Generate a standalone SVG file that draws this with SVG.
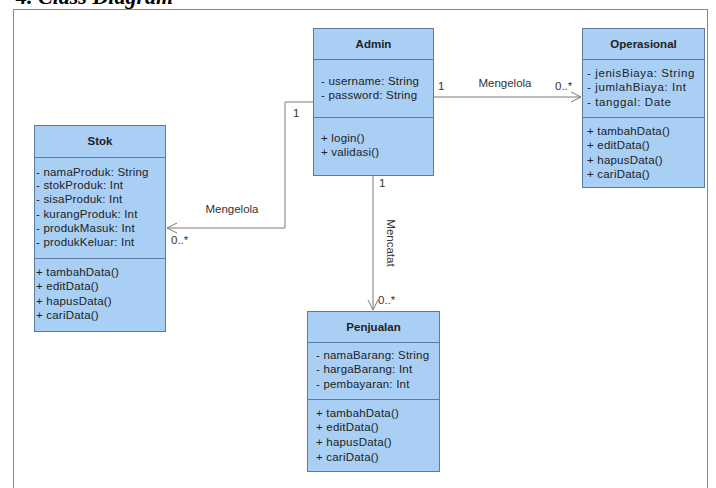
<svg xmlns="http://www.w3.org/2000/svg" width="716" height="488" viewBox="0 0 716 488">
<style>
.box{fill:#A9CFF5;stroke:#5B7BA3;stroke-width:1}
.div{stroke:#5B7BA3;stroke-width:1}
.t{font-family:"Liberation Sans",Arial,sans-serif;font-size:11.5px;letter-spacing:0.2px;fill:#222}
.h{font-family:"Liberation Sans",Arial,sans-serif;font-size:11.5px;font-weight:bold;fill:#222;text-anchor:middle}
.c{fill:none;stroke:#7a7a7a;stroke-width:1}
.l{font-family:"Liberation Sans",Arial,sans-serif;font-size:11.5px;fill:#333}
</style>
<defs>
<marker id="open" viewBox="0 0 12 12" refX="11" refY="6" markerWidth="12" markerHeight="12" markerUnits="userSpaceOnUse" orient="auto">
<path d="M1,1 L11,6 L1,11" fill="none" stroke="#7a7a7a" stroke-width="1"/>
</marker>
</defs>
<rect x="0" y="0" width="716" height="488" fill="#fff"/>
<text x="16" y="4" font-family="'Liberation Serif',serif" font-size="22" font-weight="bold" font-style="italic" fill="#000">4. Class Diagram</text>
<rect x="13.5" y="9.5" width="694" height="490" fill="none" stroke="#888" stroke-width="1"/>

<g id="connectors">
<polyline class="c" points="313,102 285,102 285,228 167,228" marker-end="url(#open)"/>
<line class="c" x1="434" y1="97" x2="581" y2="97" marker-end="url(#open)"/>
<line class="c" x1="373" y1="175" x2="373" y2="310" marker-end="url(#open)"/>
<text class="l" x="293" y="117">1</text>
<text class="l" x="232" y="213" text-anchor="middle">Mengelola</text>
<text class="l" x="171" y="244">0..*</text>
<text class="l" x="438" y="90">1</text>
<text class="l" x="505" y="87" text-anchor="middle">Mengelola</text>
<text class="l" x="555" y="90">0..*</text>
<text class="l" x="379" y="187">1</text>
<text class="l" x="0" y="0" text-anchor="middle" transform="translate(387,243) rotate(90)">Mencatat</text>
<text class="l" x="378" y="304">0..*</text>
</g>

<g id="admin">
<rect class="box" x="313.5" y="28.5" width="120" height="147"/>
<line class="div" x1="313.5" y1="59.5" x2="433.5" y2="59.5"/>
<line class="div" x1="313.5" y1="117.5" x2="433.5" y2="117.5"/>
<text class="h" x="373.5" y="48">Admin</text>
<text class="t" x="321" y="85">- username: String</text>
<text class="t" x="321" y="99">- password: String</text>
<text class="t" x="321" y="142">+ login()</text>
<text class="t" x="321" y="156">+ validasi()</text>
</g>

<g id="operasional">
<rect class="box" x="582.5" y="28.5" width="122" height="159"/>
<line class="div" x1="582.5" y1="59.5" x2="704.5" y2="59.5"/>
<line class="div" x1="582.5" y1="117.5" x2="704.5" y2="117.5"/>
<text class="h" x="643.5" y="48">Operasional</text>
<text class="t" x="587" y="77" style="letter-spacing:0.6px">- jenisBiaya: String</text>
<text class="t" x="587" y="91" style="letter-spacing:0.6px">- jumlahBiaya: Int</text>
<text class="t" x="587" y="106" style="letter-spacing:0.6px">- tanggal: Date</text>
<text class="t" x="587" y="135">+ tambahData()</text>
<text class="t" x="587" y="149">+ editData()</text>
<text class="t" x="587" y="164">+ hapusData()</text>
<text class="t" x="587" y="178">+ cariData()</text>
</g>

<g id="stok">
<rect class="box" x="34.5" y="125.5" width="131" height="206"/>
<line class="div" x1="34.5" y1="157.5" x2="165.5" y2="157.5"/>
<line class="div" x1="34.5" y1="258.5" x2="165.5" y2="258.5"/>
<text class="h" x="100" y="145">Stok</text>
<text class="t" x="36" y="176">- namaProduk: String</text>
<text class="t" x="36" y="189">- stokProduk: Int</text>
<text class="t" x="36" y="203">- sisaProduk: Int</text>
<text class="t" x="36" y="218">- kurangProduk: Int</text>
<text class="t" x="36" y="232">- produkMasuk: Int</text>
<text class="t" x="36" y="246">- produkKeluar: Int</text>
<text class="t" x="36" y="276">+ tambahData()</text>
<text class="t" x="36" y="290">+ editData()</text>
<text class="t" x="36" y="305">+ hapusData()</text>
<text class="t" x="36" y="319">+ cariData()</text>
</g>

<g id="penjualan">
<rect class="box" x="307.5" y="311.5" width="132" height="160"/>
<line class="div" x1="307.5" y1="342.5" x2="439.5" y2="342.5"/>
<line class="div" x1="307.5" y1="399.5" x2="439.5" y2="399.5"/>
<text class="h" x="373.5" y="331">Penjualan</text>
<text class="t" x="316" y="359">- namaBarang: String</text>
<text class="t" x="316" y="373">- hargaBarang: Int</text>
<text class="t" x="316" y="388">- pembayaran: Int</text>
<text class="t" x="316" y="417">+ tambahData()</text>
<text class="t" x="316" y="431">+ editData()</text>
<text class="t" x="316" y="446">+ hapusData()</text>
<text class="t" x="316" y="461">+ cariData()</text>
</g>
</svg>
